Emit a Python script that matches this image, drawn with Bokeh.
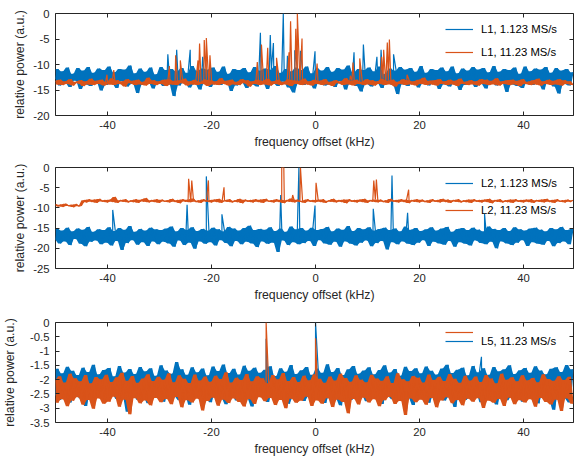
import numpy as np
from bokeh.plotting import figure
from bokeh.models import Range1d, LinearAxis, FixedTicker, Legend, LegendItem
from bokeh.core.properties import value
from bokeh.layouts import column
from bokeh.embed import file_html
from bokeh.resources import INLINE

# ---------------- data ----------------
FREQ_START = -50.0   # kHz, first frequency bin of the noise records
FREQ_STEP = 0.5      # kHz between noise samples (alternating bin max / bin min)

x_ticks = [-40, -20, 0, 20, 40]
x_tick_labels = ["-40", "-20", "0", "20", "40"]

y1_ticks = [0, -5, -10, -15, -20]
y1_tick_labels = ["0", "-5", "-10", "-15", "-20"]
y2_ticks = [0, -5, -10, -15, -20, -25]
y2_tick_labels = ["0", "-5", "-10", "-15", "-20", "-25"]
y3_ticks = [0, -0.5, -1, -1.5, -2, -2.5, -3, -3.5]
y3_tick_labels = ["0", "-0.5", "-1", "-1.5", "-2", "-2.5", "-3", "-3.5"]

labels_top = ["L1, 1.123 MS/s", "L1, 11.23 MS/s"]
labels_mid = ["L2, 1.123 MS/s", "L2, 11.23 MS/s"]
label_bottom = "L5, 11.23 MS/s"

# --- panel 1: L1 ---
l1_slow_noise = [
    -12.8,-10.9,-14.1,-11.3,-13.6,-10.6,-14.4,-11.8,-13.2,-10.7,-14.8,-11.2,-13.9,-10.5,-14.2,-11.6,-13.4,-10.8,-15.1,-11.1,
    -14.0,-10.4,-13.7,-11.5,-14.6,-10.9,-13.3,-11.0,-14.3,-10.2,-13.8,-11.7,-15.6,-10.8,-14.0,-11.4,-13.5,-10.6,-14.7,-11.9,
    -13.6,-10.5,-14.2,-11.1,-13.9,-10.9,-16.2,-11.3,-14.1,-10.7,-13.4,-11.6,-14.5,-10.3,-13.8,-11.2,-14.9,-10.8,-13.5,-11.0,
    -14.4,-10.6,-13.7,-11.4,-14.0,-10.4,-13.3,-11.8,-15.2,-10.9,-14.1,-11.1,-13.6,-10.7,-14.6,-11.5,-13.9,-10.5,-14.3,-11.2,
    -13.5,-10.8,-14.8,-11.0,-13.7,-10.3,-14.2,-11.6,-13.4,-10.9,-14.5,-11.3,-15.5,-10.6,-13.8,-11.1,-14.0,-10.4,-13.6,-11.7,
    -14.7,-10.8,-13.5,-11.2,-14.1,-10.5,-13.9,-11.4,-14.4,-10.7,-13.3,-11.0,-14.9,-10.2,-13.7,-11.5,-14.2,-10.9,-15.3,-11.1,
    -13.8,-10.6,-14.3,-11.3,-13.6,-10.4,-14.6,-11.8,-13.4,-10.8,-14.0,-11.2,-15.8,-10.5,-13.9,-11.0,-14.2,-10.7,-13.5,-11.4,
    -14.5,-10.3,-13.7,-11.6,-14.1,-10.9,-13.4,-11.1,-14.8,-10.6,-13.9,-11.3,-14.3,-10.4,-13.6,-11.7,-15.0,-10.8,-14.0,-11.2,
    -13.5,-10.5,-14.4,-11.0,-13.8,-10.7,-14.7,-11.5,-13.3,-10.3,-14.1,-11.4,-13.6,-10.9,-15.4,-11.1,-13.9,-10.6,-14.2,-11.8,
    -14.6,-10.4,-13.5,-11.3,-14.0,-10.8,-13.7,-11.0,-14.9,-10.5,-13.4,-11.6,-14.3,-10.7,-15.7,-11.2,-13.8,-10.9,-14.1,-11.5,
]
l1_slow_spike_freq = [-28.4,-26.7,-24.1,-21.7,-10.6,-8.7,-8.1,-6.2,-5.4,-4.0,-2.9,-0.1,7.4,9.2,11.8,12.6,15.0]
l1_slow_spike_pow = [-8.0,-7.1,-7.1,-8.5,-3.8,-4.2,-5.8,0.0,-8.3,-7.2,-7.3,-7.4,-7.6,-6.1,-8.5,-7.1,-8.0]

l1_fast_noise = [
    -13.2,-13.9,-13.0,-14.0,-13.3,-13.8,-12.9,-14.1,-13.4,-13.7,-13.1,-14.2,-13.3,-13.9,-12.8,-14.0,-13.2,-13.8,-13.0,-14.1,
    -13.4,-13.9,-12.7,-14.0,-13.1,-13.8,-13.3,-14.3,-12.9,-13.7,-13.2,-14.0,-13.0,-13.9,-13.4,-14.1,-12.6,-13.8,-13.1,-14.0,
    -13.3,-13.8,-13.0,-14.2,-12.9,-13.9,-13.2,-14.0,-13.1,-13.7,-12.8,-14.1,-13.3,-13.9,-13.0,-14.0,-13.4,-13.8,-12.9,-14.2,
    -13.1,-13.9,-13.3,-14.0,-12.7,-13.8,-13.2,-14.1,-13.0,-13.9,-13.4,-14.0,-12.9,-13.7,-13.1,-14.3,-13.3,-13.8,-13.0,-14.0,
    -13.2,-13.9,-12.8,-14.1,-13.3,-13.8,-13.0,-14.0,-13.4,-13.9,-12.9,-14.2,-13.1,-13.8,-13.2,-14.0,-12.8,-13.9,-13.3,-14.1,
    -13.0,-13.8,-13.2,-14.0,-12.9,-13.9,-13.4,-14.2,-13.1,-13.7,-13.3,-14.0,-12.7,-13.9,-13.2,-14.1,-13.0,-13.8,-13.4,-14.0,
    -12.9,-13.9,-13.1,-14.1,-13.3,-13.8,-12.8,-14.0,-13.2,-13.9,-13.0,-14.3,-13.4,-13.8,-12.9,-14.0,-13.1,-13.9,-13.3,-14.1,
    -13.0,-13.8,-12.6,-14.0,-13.2,-13.9,-13.1,-14.1,-12.9,-13.8,-13.3,-14.0,-13.0,-13.9,-13.2,-14.2,-12.8,-13.8,-13.4,-14.0,
    -13.1,-13.9,-13.3,-14.1,-12.9,-13.8,-13.0,-14.0,-13.2,-13.9,-12.7,-14.1,-13.3,-13.8,-13.1,-14.0,-13.0,-13.9,-13.2,-14.2,
    -12.9,-13.8,-13.4,-14.0,-13.1,-13.9,-12.8,-14.1,-13.3,-13.8,-13.0,-14.0,-13.2,-13.9,-12.9,-14.1,-13.1,-13.8,-13.3,-14.0,
]
l1_fast_spike_freq = [-40.1,-38.8,-28.1,-26.9,-26.0,-22.6,-22.3,-21.4,-21.0,-20.3,-11.2,-10.4,-9.2,-7.5,-5.1,-4.8,
                      -3.8,-3.5,-2.6,0.3,6.7,7.2,8.5,12.7,13.1,13.8,14.2,17.6]
l1_fast_spike_pow = [-12.0,-11.1,-10.3,-8.2,-9.2,-9.2,-5.9,-5.2,-4.8,-8.2,-9.5,-6.1,-6.7,-8.7,-7.6,-1.5,
                     -3.0,0.0,-4.9,-9.8,-12.2,-9.6,-8.8,-8.5,-7.1,-5.7,-5.1,-12.0]

# --- panel 2: L2 ---
l2_slow_noise = [
    -17.9,-15.2,-18.8,-15.6,-18.3,-14.9,-19.2,-15.8,-17.7,-15.1,-18.9,-15.4,-19.5,-14.7,-18.4,-15.9,-18.1,-15.3,-19.0,-15.5,
    -18.6,-14.8,-19.3,-15.7,-18.2,-15.0,-20.4,-15.4,-18.7,-14.5,-18.0,-15.9,-19.1,-15.2,-18.5,-15.6,-19.4,-14.9,-18.3,-15.3,
    -19.0,-15.5,-18.4,-15.1,-18.8,-14.6,-19.6,-15.8,-18.1,-15.0,-19.2,-15.4,-18.6,-14.8,-20.1,-15.7,-18.3,-15.2,-18.9,-15.6,
    -18.5,-14.9,-19.3,-15.3,-18.0,-15.8,-18.7,-14.7,-19.5,-15.1,-18.2,-15.6,-19.0,-15.0,-18.4,-14.4,-18.8,-15.5,-19.7,-15.2,
    -18.3,-15.4,-18.9,-14.8,-18.6,-15.7,-20.9,-15.1,-18.1,-15.9,-19.2,-14.6,-18.5,-15.3,-19.0,-15.0,-18.7,-15.6,-18.2,-14.9,
    -19.4,-15.5,-18.0,-15.2,-18.8,-14.7,-19.1,-15.8,-18.4,-15.1,-19.6,-15.4,-18.3,-14.5,-18.9,-15.7,-19.3,-15.0,-18.6,-15.3,
    -18.1,-14.8,-19.5,-15.6,-18.7,-15.2,-18.2,-14.9,-20.3,-15.5,-18.5,-15.1,-19.0,-15.8,-18.3,-14.6,-18.9,-15.4,-19.2,-15.0,
    -18.6,-15.7,-18.0,-15.3,-19.4,-14.8,-18.4,-15.6,-18.8,-15.1,-19.1,-14.7,-18.2,-15.9,-19.6,-15.2,-18.5,-15.0,-18.9,-15.5,
    -19.3,-14.9,-18.1,-15.4,-18.7,-15.8,-19.0,-14.6,-18.4,-15.2,-20.0,-15.5,-18.3,-15.0,-18.8,-15.7,-19.2,-14.8,-18.6,-15.3,
    -18.0,-15.6,-19.4,-15.1,-18.5,-14.9,-18.9,-15.4,-19.1,-15.8,-18.2,-15.0,-19.5,-15.3,-18.7,-14.7,-18.3,-15.5,-19.0,-15.2,
]
l2_slow_spike_freq = [-39.0,-24.7,-21.0,-18.0,-6.7,-3.2,-0.1,11.1,14.7,17.7,32.5]
l2_slow_spike_pow = [-10.5,-9.2,-2.2,-11.6,-6.8,0.0,-9.4,-10.2,-2.0,-11.2,-11.5]

l2_fast_noise = [
    -9.1,-9.6,-9.2,-9.7,-9.0,-9.5,-9.3,-9.8,-9.1,-9.6,-9.4,-8.1,-8.6,-7.9,-8.5,-8.0,-8.7,-7.8,-8.4,-8.1,
    -8.6,-8.0,-8.5,-7.3,-8.7,-8.1,-8.4,-7.9,-8.6,-8.2,-8.5,-7.9,-8.7,-8.0,-8.4,-7.6,-8.6,-8.1,-8.5,-7.9,
    -8.7,-8.0,-8.4,-8.2,-8.6,-7.8,-8.5,-8.1,-8.8,-7.9,-8.4,-8.0,-8.6,-7.7,-8.5,-8.2,-8.7,-7.9,-8.4,-8.1,
    -8.6,-8.0,-8.5,-7.8,-8.7,-8.1,-8.4,-7.9,-8.6,-8.2,-8.5,-7.8,-8.8,-8.0,-8.4,-8.1,-8.6,-7.9,-8.5,-8.0,
    -8.7,-7.8,-8.4,-8.2,-8.6,-7.9,-8.5,-8.0,-8.8,-8.1,-8.4,-7.7,-8.6,-8.0,-8.5,-8.2,-8.7,-7.9,-8.4,-8.1,
    -8.6,-8.0,-8.5,-7.9,-8.7,-8.2,-8.4,-7.8,-8.6,-8.1,-8.5,-8.0,-8.8,-7.9,-8.4,-8.1,-8.6,-8.0,-8.5,-7.8,
    -8.7,-8.1,-8.4,-7.9,-8.6,-8.0,-8.5,-8.2,-8.7,-7.8,-8.4,-8.1,-8.6,-7.9,-8.5,-8.0,-8.8,-8.1,-8.4,-7.9,
    -8.6,-8.0,-8.5,-8.2,-8.7,-7.9,-8.4,-8.1,-8.6,-7.8,-8.5,-8.0,-8.7,-8.1,-8.4,-7.9,-8.6,-8.2,-8.5,-8.0,
    -8.7,-7.9,-8.4,-8.1,-8.6,-8.0,-8.5,-7.8,-8.8,-8.1,-8.4,-7.9,-8.6,-8.2,-8.5,-8.0,-8.7,-7.9,-8.4,-8.1,
    -8.6,-8.0,-8.5,-7.9,-8.7,-8.1,-8.4,-8.0,-8.6,-7.8,-8.5,-8.1,-8.7,-7.9,-8.4,-8.2,-8.6,-8.0,-8.5,-8.1,
]
l2_fast_spike_freq = [-24.4,-23.8,-20.6,-17.6,-6.5,-6.1,-4.4,-2.9,0.1,11.2,11.7,17.9]
l2_fast_spike_pow = [-2.8,-3.2,-3.2,-4.9,0.0,0.0,-6.8,0.0,-3.8,-3.2,-3.0,-5.5]

# --- panel 3: L5 ---
l5_blue_noise = [
    -2.55,-1.62,-2.71,-1.78,-2.43,-1.55,-2.80,-1.69,-2.48,-1.84,-2.66,-1.58,-2.92,-1.73,-2.51,-1.48,-2.62,-1.81,-2.45,-1.66,
    -2.74,-1.59,-2.50,-1.88,-2.68,-1.52,-2.57,-1.75,-3.12,-1.63,-2.46,-1.80,-2.70,-1.56,-2.59,-1.71,-2.83,-1.60,-2.44,-1.86,
    -2.65,-1.50,-2.77,-1.68,-2.49,-1.79,-2.60,-1.38,-2.72,-1.64,-2.53,-1.83,-2.88,-1.57,-2.47,-1.74,-2.69,-1.61,-2.58,-1.85,
    -2.79,-1.54,-2.52,-1.70,-2.64,-1.47,-2.86,-1.77,-2.45,-1.62,-2.73,-1.82,-2.56,-1.51,-2.67,-1.69,-2.94,-1.58,-2.50,-1.76,
    -2.61,-1.65,-2.78,-1.53,-2.48,-1.87,-2.70,-1.60,-2.55,-1.72,-2.84,-1.49,-2.63,-1.80,-2.46,-1.67,-2.75,-1.56,-2.59,-1.83,
    -2.68,-1.61,-2.51,-1.76,-2.82,-1.46,-2.57,-1.73,-2.66,-1.59,-2.90,-1.84,-2.49,-1.64,-2.71,-1.52,-2.60,-1.79,-2.54,-1.68,
    -2.76,-1.57,-2.62,-1.81,-2.47,-1.66,-2.85,-1.50,-2.58,-1.75,-2.69,-1.63,-2.52,-1.86,-2.74,-1.55,-2.64,-1.70,-2.89,-1.60,
    -2.50,-1.78,-2.67,-1.54,-2.81,-1.69,-2.56,-1.82,-2.45,-1.61,-2.73,-1.48,-2.60,-1.77,-2.96,-1.65,-2.53,-1.58,-2.70,-1.85,
    -2.63,-1.52,-2.48,-1.74,-2.79,-1.60,-2.55,-1.83,-2.68,-1.56,-2.87,-1.71,-2.50,-1.64,-2.72,-1.50,-2.61,-1.80,-2.46,-1.67,
    -2.77,-1.59,-2.58,-1.76,-2.65,-1.53,-2.83,-1.68,-2.49,-1.81,-2.71,-1.62,-3.05,-1.57,-2.54,-1.73,-2.66,-1.49,-2.80,-1.64,
]
l5_blue_spike_freq = [-9.5, 0.0, 31.9]
l5_blue_spike_pow = [-0.57, 0.0, -1.2]

l5_fast_noise = [
    -2.02,-2.81,-1.88,-2.69,-2.10,-2.93,-1.79,-2.74,-1.95,-2.62,-2.06,-2.88,-1.84,-2.71,-2.13,-3.02,-1.91,-2.66,-1.99,-2.84,
    -1.83,-2.77,-2.08,-2.60,-1.92,-2.95,-1.76,-2.70,-2.04,-3.21,-1.87,-2.65,-2.11,-2.83,-1.96,-2.73,-1.81,-2.90,-2.05,-2.64,
    -1.90,-2.79,-2.00,-2.68,-1.78,-2.86,-2.09,-2.61,-1.85,-2.97,-1.97,-2.72,-2.12,-2.80,-1.82,-2.67,-2.03,-3.08,-1.89,-2.75,
    -2.07,-2.63,-1.86,-2.91,-1.98,-2.70,-1.74,-2.82,-2.10,-2.66,-1.93,-2.78,-2.01,-2.94,-1.80,-2.69,-2.06,-2.85,-1.88,-2.62,
    -1.95,-2.76,-2.13,-2.64,-1.84,-2.89,-1.99,-2.71,-1.77,-3.00,-2.05,-2.67,-1.91,-2.81,-2.08,-2.74,-1.86,-2.60,-2.02,-2.92,
    -1.81,-2.73,-1.97,-2.84,-2.11,-2.65,-1.89,-2.96,-2.03,-2.70,-1.79,-2.78,-1.94,-3.18,-2.07,-2.68,-1.85,-2.87,-2.00,-2.63,
    -2.09,-2.80,-1.83,-2.69,-1.96,-2.93,-2.04,-2.72,-1.88,-2.61,-2.12,-2.85,-1.78,-2.75,-1.99,-3.24,-2.06,-2.66,-1.87,-2.79,
    -1.93,-2.70,-2.10,-2.88,-1.82,-2.64,-2.01,-2.97,-1.90,-2.73,-2.05,-2.62,-1.80,-2.83,-1.97,-2.71,-2.11,-2.90,-1.86,-2.67,
    -2.03,-2.77,-1.89,-2.65,-2.08,-2.99,-1.84,-2.74,-1.96,-2.81,-2.13,-2.68,-1.79,-2.92,-2.00,-2.63,-1.92,-2.86,-2.06,-2.72,
    -1.85,-2.80,-2.02,-2.69,-1.94,-2.95,-2.09,-2.64,-1.81,-2.78,-1.98,-2.87,-2.04,-2.70,-1.88,-3.10,-2.01,-2.66,-1.90,-2.84,
]
l5_fast_spike_freq = [-9.5, 0.0]
l5_fast_spike_pow = [0.0, -0.55]

# ---------------- style ----------------
BLUE = "#0072BD"
ORANGE = "#D95319"
AXC = "#262626"
FONT = "Liberation Sans"
TICK_SIZE = "11.3px"
LABEL_SIZE = "12.3px"
LW = 1.2
X_LO, X_HI = -50.0, 49.6


def bins_of(noise):
    return FREQ_START + FREQ_STEP * np.arange(len(noise))


def spectrum(noise, spike_freq, spike_pow):
    x = np.concatenate([bins_of(noise), np.asarray(spike_freq, float)])
    y = np.concatenate([np.asarray(noise, float), np.asarray(spike_pow, float)])
    order = np.argsort(x, kind="stable")
    return x[order], y[order]


def envelope(noise):
    # vertical extent swept by the dense trace between neighbouring samples
    n = np.asarray(noise, float)
    nxt = np.concatenate([n[1:], n[-1:]])
    return bins_of(noise), np.minimum(n, nxt), np.maximum(n, nxt)


def draw(p, noise, spike_freq, spike_pow, color):
    bx, lo, hi = envelope(noise)
    p.varea(x=bx, y1=lo, y2=hi, fill_color=color, fill_alpha=1.0)
    x, y = spectrum(noise, spike_freq, spike_pow)
    return p.line(x, y, line_color=color, line_width=LW)


def style_axis(ax, ticks, tick_labels):
    ax.ticker = FixedTicker(ticks=ticks)
    ax.major_label_overrides = dict(zip(ticks, tick_labels))
    ax.axis_line_color = None
    ax.major_tick_in = 4
    ax.major_tick_out = 0
    ax.major_tick_line_color = AXC
    ax.minor_tick_line_color = None
    ax.major_label_text_font = FONT
    ax.major_label_text_font_size = TICK_SIZE
    ax.major_label_text_color = AXC
    ax.axis_label_text_font = FONT
    ax.axis_label_text_font_size = LABEL_SIZE
    ax.axis_label_text_font_style = "normal"
    ax.axis_label_text_color = AXC


def panel(y_lo, y_hi, yticks, ytick_labels, height, b_top, b_bottom, ylab_standoff):
    p = figure(width=574, height=height, x_range=Range1d(X_LO, X_HI), y_range=Range1d(y_lo, y_hi),
               output_backend="svg", toolbar_location=None,
               min_border_left=55, min_border_right=1, min_border_top=b_top, min_border_bottom=b_bottom,
               x_axis_label="frequency offset (kHz)", y_axis_label="relative power (a.u.)")
    p.grid.visible = False
    p.outline_line_color = AXC
    p.outline_line_width = 1
    p.background_fill_color = "white"
    p.border_fill_color = "white"
    style_axis(p.xaxis[0], x_ticks, x_tick_labels)
    style_axis(p.yaxis[0], yticks, ytick_labels)
    p.xaxis[0].major_label_standoff = 5
    p.xaxis[0].axis_label_standoff = 3
    p.yaxis[0].major_label_standoff = 6
    p.yaxis[0].axis_label_standoff = ylab_standoff
    # mirrored inward ticks on the top and right edges (box on), no labels
    top = LinearAxis()
    style_axis(top, x_ticks, x_tick_labels)
    right = LinearAxis()
    style_axis(right, yticks, ytick_labels)
    for ax in (top, right):
        ax.major_label_text_font_size = "0px"
        ax.major_label_text_color = None
        ax.major_label_standoff = 0
    p.add_layout(top, "above")
    p.add_layout(right, "right")
    return p


def legend(items, loc, spacing, baseline="middle"):
    return Legend(items=items, location=loc, padding=0, margin=0, spacing=spacing,
                  glyph_width=28, glyph_height=14, label_height=14, label_standoff=8,
                  label_text_font=FONT, label_text_font_size=TICK_SIZE, label_text_color="black",
                  label_text_baseline=baseline,
                  background_fill_alpha=0, border_line_alpha=0)


# panel 1
p1 = panel(-20, 0, y1_ticks, y1_tick_labels, 154, 13, 39, 3)
r1a = draw(p1, l1_slow_noise, l1_slow_spike_freq, l1_slow_spike_pow, BLUE)
r1b = draw(p1, l1_fast_noise, l1_fast_spike_freq, l1_fast_spike_pow, ORANGE)
p1.add_layout(legend([LegendItem(label=value(labels_top[0]), renderers=[r1a]),
                      LegendItem(label=value(labels_top[1]), renderers=[r1b])], (390, 56), 9))

# panel 2
p2 = panel(-25, 0, y2_ticks, y2_tick_labels, 154, 13, 40, 3)
r2a = draw(p2, l2_slow_noise, l2_slow_spike_freq, l2_slow_spike_pow, BLUE)
r2b = draw(p2, l2_fast_noise, l2_fast_spike_freq, l2_fast_spike_pow, ORANGE)
p2.add_layout(legend([LegendItem(label=value(labels_mid[0]), renderers=[r2a]),
                      LegendItem(label=value(labels_mid[1]), renderers=[r2b])], (390, 51), 13))

# panel 3
p3 = panel(-3.5, 0, y3_ticks, y3_tick_labels, 153, 14, 39, 10)
r3a = draw(p3, l5_blue_noise, l5_blue_spike_freq, l5_blue_spike_pow, BLUE)
r3b = draw(p3, l5_fast_noise, l5_fast_spike_freq, l5_fast_spike_pow, ORANGE)
p3.add_layout(legend([LegendItem(label=value(" "), renderers=[r3b])], (390, 83), 0))
p3.add_layout(legend([LegendItem(label=value(label_bottom), renderers=[r3a])], (390, 74), 0,
                     baseline="alphabetic"))

layout = column(p1, p2, p3)
open("out.html", "w").write(file_html(layout, INLINE))
